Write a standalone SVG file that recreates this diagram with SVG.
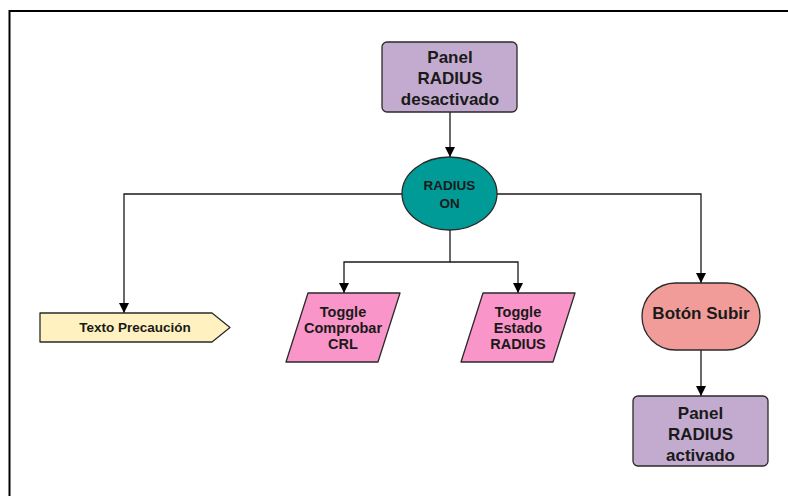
<svg xmlns="http://www.w3.org/2000/svg" width="788" height="496" viewBox="0 0 788 496">
  <style>
    .lbl { font-family: "Liberation Sans", Arial, sans-serif; font-weight: bold; fill: #1a1a1a; text-anchor: middle; }
    .big { font-size: 17px; }
    .small { font-size: 13.5px; }
    .mid { font-size: 14.5px; }
    .edge { fill: none; stroke: #1a1a1a; stroke-width: 1.3; }
    .shape { stroke: #2a2a2a; stroke-width: 1.3; stroke-linejoin: round; }
  </style>
  <defs>
    <marker id="arrow" viewBox="0 0 10 10" refX="10" refY="5" markerWidth="10" markerHeight="10" markerUnits="userSpaceOnUse" orient="auto">
      <path d="M0,0 L10,5 L0,10 Z" fill="#000"/>
    </marker>
  </defs>
  <rect width="788" height="496" fill="#ffffff"/>
  <!-- frame -->
  <path d="M9.5,496 V11 H788" fill="none" stroke="#000" stroke-width="2"/>

  <g id="connectors">
    <path class="edge" d="M450,112 V157" marker-end="url(#arrow)"/>
    <path class="edge" d="M402,194 H124 V313" marker-end="url(#arrow)"/>
    <path class="edge" d="M497,194 H701 V283" marker-end="url(#arrow)"/>
    <path class="edge" d="M450,230 V262 H344 V293" marker-end="url(#arrow)"/>
    <path class="edge" d="M450,262 H518 V293" marker-end="url(#arrow)"/>
    <path class="edge" d="M701,350 V396" marker-end="url(#arrow)"/>
  </g>

  <g id="panel-desactivado">
    <rect class="shape" x="382" y="42" width="135" height="70" rx="5" fill="#c3abd0"/>
    <text class="lbl big" x="450" y="63">Panel</text>
    <text class="lbl big" x="450" y="84">RADIUS</text>
    <text class="lbl big" x="450" y="105">desactivado</text>
  </g>

  <g id="radius-on">
    <ellipse class="shape" cx="449.5" cy="193.5" rx="47.5" ry="36.5" fill="#009a97"/>
    <text class="lbl small" x="449.5" y="190">RADIUS</text>
    <text class="lbl small" x="449.5" y="208">ON</text>
  </g>

  <g id="texto-precaucion">
    <path class="shape" d="M40,313 H212 L230,327.5 L212,342 H40 Z" fill="#fff2c0"/>
    <text class="lbl small" x="135" y="332">Texto Precaución</text>
  </g>

  <g id="toggle-crl">
    <path class="shape" d="M308,293 H400 L378,362 H286 Z" fill="#f995c8"/>
    <text class="lbl mid" x="343" y="317">Toggle</text>
    <text class="lbl mid" x="343" y="333">Comprobar</text>
    <text class="lbl mid" x="343" y="349">CRL</text>
  </g>

  <g id="toggle-estado">
    <path class="shape" d="M483,293 H575 L553,362 H461 Z" fill="#f995c8"/>
    <text class="lbl mid" x="518" y="317">Toggle</text>
    <text class="lbl mid" x="518" y="333">Estado</text>
    <text class="lbl mid" x="518" y="349">RADIUS</text>
  </g>

  <g id="boton-subir">
    <rect class="shape" x="642" y="283" width="118" height="67" rx="33.5" fill="#f19c98"/>
    <text class="lbl big" x="701" y="319">Botón Subir</text>
  </g>

  <g id="panel-activado">
    <rect class="shape" x="633" y="396" width="135" height="70" rx="5" fill="#c3abd0"/>
    <text class="lbl big" x="700.5" y="419">Panel</text>
    <text class="lbl big" x="700.5" y="440">RADIUS</text>
    <text class="lbl big" x="700.5" y="461">activado</text>
  </g>
</svg>
